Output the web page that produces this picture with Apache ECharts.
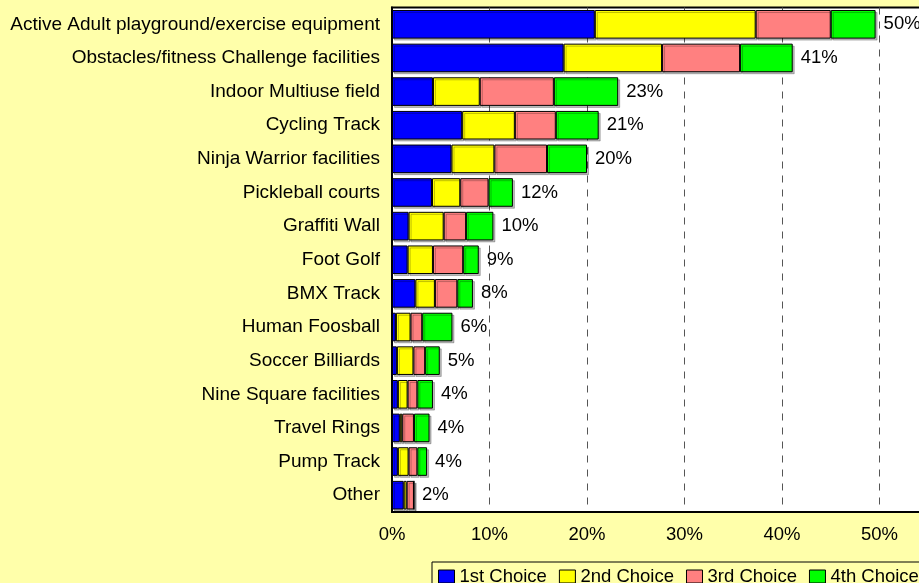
<!DOCTYPE html>
<html>
<head>
<meta charset="utf-8">
<script src="https://cdn.jsdelivr.net/npm/echarts@6/dist/echarts.min.js"></script>
<style>
  html, body { margin: 0; padding: 0; background: #ffffaa; }
  #main { width: 919px; height: 583px; }
</style>
</head>
<body>
<div id="main"></div>
<script>
// categories, top to bottom
const categories = [
  'Active Adult playground/exercise equipment',
  'Obstacles/fitness Challenge facilities',
  'Indoor Multiuse field',
  'Cycling Track',
  'Ninja Warrior facilities',
  'Pickleball courts',
  'Graffiti Wall',
  'Foot Golf',
  'BMX Track',
  'Human Foosball',
  'Soccer Billiards',
  'Nine Square facilities',
  'Travel Rings',
  'Pump Track',
  'Other'
];

// percent of respondents per choice rank
const firstChoice  = [20.8, 17.6, 4.2, 7.2, 6.1, 4.1, 1.7, 1.6, 2.4, 0.4, 0.5, 0.6, 0.8, 0.6, 1.2];
const secondChoice = [16.5, 10.1, 4.8, 5.4, 4.4, 2.9, 3.6, 2.6, 2.0, 1.5, 1.7, 1.0, 0.25, 1.1, 0.3];
const thirdChoice  = [7.7, 8.0, 7.6, 4.2, 5.4, 2.9, 2.3, 3.1, 2.3, 1.2, 1.2, 1.0, 1.2, 0.9, 0.75];
const fourthChoice = [4.6, 5.4, 6.6, 4.4, 4.1, 2.5, 2.8, 1.6, 1.6, 3.1, 1.5, 1.6, 1.6, 1.0, 0];

// total labels as printed
const totalLabels = [50, 41, 23, 21, 20, 12, 10, 9, 8, 6, 5, 4, 4, 4, 2];

const xTicks = [0, 10, 20, 30, 40, 50, 60];

const font = '"Liberation Sans", Arial, sans-serif';
const totals = categories.map((c, i) =>
  firstChoice[i] + secondChoice[i] + thirdChoice[i] + fourthChoice[i]);

const myChart = echarts.init(document.getElementById('main'));

const segStyle = (color) => ({
  color: color,
  borderColor: '#000',
  borderWidth: 1,
  shadowColor: 'rgba(0,0,0,0.25)',
  shadowOffsetX: 2,
  shadowOffsetY: 2
});

const option = {
  backgroundColor: '#ffffaa',
  animation: false,
  textStyle: { fontFamily: font },
  grid: {
    left: 392,
    top: 7.5,
    bottom: 71,
    right: -58,
    outerBoundsMode: 'none',
    containLabel: false,
    show: true,
    backgroundColor: '#fff',
    borderColor: '#000',
    borderWidth: 2
  },
  legend: {
    data: ['1st Choice', '2nd Choice', '3rd Choice', '4th Choice'],
    left: 432,
    top: 562,
    width: 600,
    orient: 'horizontal',
    padding: [5, 6, 4, 6],
    itemWidth: 16,
    itemHeight: 13,
    itemGap: 12,
    icon: 'rect',
    backgroundColor: '#ffffaa',
    borderColor: '#000',
    borderWidth: 1,
    borderRadius: 0,
    itemStyle: { borderColor: '#000', borderWidth: 1, shadowColor: 'transparent' },
    textStyle: { fontSize: 18.5, color: '#000', fontFamily: font }
  },
  xAxis: {
    type: 'value',
    min: xTicks[0],
    max: xTicks[xTicks.length - 1],
    interval: 10,
    axisLine: { show: true, lineStyle: { color: '#000', width: 2 } },
    axisTick: { show: false },
    axisLabel: {
      formatter: '{value}%',
      fontSize: 18.5,
      color: '#000',
      margin: 13,
      fontFamily: font
    },
    splitLine: {
      show: true,
      lineStyle: { color: '#555', width: 1, type: [7, 7] }
    }
  },
  yAxis: {
    type: 'category',
    data: categories,
    inverse: true,
    axisLine: { show: true, lineStyle: { color: '#000', width: 2 } },
    axisTick: { show: false },
    axisLabel: { fontSize: 19, color: '#000', margin: 12, fontFamily: font }
  },
  series: [
    { name: '1st Choice', type: 'bar', stack: 'all', data: firstChoice,
      barCategoryGap: '15%', itemStyle: segStyle('#0000ff') },
    { name: '2nd Choice', type: 'bar', stack: 'all', data: secondChoice,
      itemStyle: segStyle('#ffff00') },
    { name: '3rd Choice', type: 'bar', stack: 'all', data: thirdChoice,
      itemStyle: segStyle('#ff8080') },
    { name: '4th Choice', type: 'bar', stack: 'all', data: fourthChoice,
      itemStyle: segStyle('#00ff00') },
    {
      name: 'Total', type: 'bar', data: totals, barGap: '-100%',
      barCategoryGap: '15%',
      itemStyle: { color: 'rgba(0,0,0,0)' },
      silent: true,
      z: 1,
      label: {
        show: true,
        position: 'right',
        distance: 8,
        fontSize: 18.5,
        color: '#000',
        fontFamily: font,
        formatter: (p) => totalLabels[p.dataIndex] + '%'
      }
    }
  ]
};

myChart && myChart.setOption(option);
</script>
</body>
</html>
